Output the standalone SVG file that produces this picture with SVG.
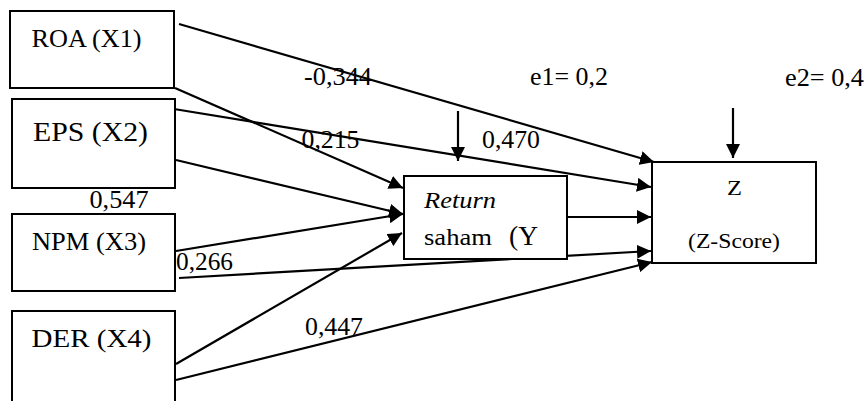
<svg xmlns="http://www.w3.org/2000/svg" width="865" height="401" viewBox="0 0 865 401">
<style>
.box{fill:#fff;stroke:#000;stroke-width:2}
.t{font-family:'Liberation Serif','DejaVu Serif','Times New Roman',Times,serif;fill:#000}
.c{stroke:#000;stroke-width:2.2;fill:none;marker-end:url(#ah)}
</style>
<defs>
<marker id="ah" markerUnits="userSpaceOnUse" markerWidth="15" markerHeight="14" refX="14" refY="7" orient="auto">
<path d="M0,0 L14,7 L0,14 z" fill="#000"/>
</marker>
</defs>
<rect width="865" height="401" fill="#fff"/>
<g id="connectors">
<line class="c" x1="179" y1="24" x2="654" y2="162"/>
<line class="c" x1="175" y1="88" x2="403" y2="188"/>
<line class="c" x1="174" y1="109" x2="651" y2="187"/>
<line class="c" x1="176" y1="160" x2="403" y2="214"/>
<line class="c" x1="176" y1="251" x2="403" y2="214"/>
<line class="c" x1="179" y1="278" x2="651" y2="251"/>
<line class="c" x1="176" y1="364" x2="402" y2="233"/>
<line class="c" x1="176" y1="380" x2="652" y2="262"/>
<line class="c" x1="567" y1="217" x2="651" y2="217"/>
<line class="c" x1="458" y1="111" x2="458" y2="161"/>
<line class="c" x1="733" y1="108" x2="733" y2="158"/>
</g>
<g id="roa">
<rect class="box" x="10" y="11" width="164" height="77"/>
<text class="t" font-family="Liberation Serif, serif" x="31.5" y="47" font-size="25" textLength="110" lengthAdjust="spacingAndGlyphs">ROA (X1)</text>
</g>
<g id="eps">
<rect class="box" x="12" y="99" width="163" height="89"/>
<text class="t" x="33" y="141" font-size="28" textLength="115" lengthAdjust="spacingAndGlyphs">EPS (X2)</text>
</g>
<g id="npm">
<rect class="box" x="12" y="214" width="163" height="77"/>
<text class="t" x="32" y="250" font-size="25" textLength="114" lengthAdjust="spacingAndGlyphs">NPM (X3)</text>
</g>
<g id="der">
<rect class="box" x="12" y="311" width="163" height="110"/>
<text class="t" x="31.5" y="347" font-size="25" textLength="120" lengthAdjust="spacingAndGlyphs">DER (X4)</text>
</g>
<g id="return">
<rect class="box" x="404" y="176" width="163" height="83"/>
<text class="t" x="424" y="208" font-size="23" font-style="italic" textLength="72" lengthAdjust="spacingAndGlyphs">Return</text>
<text class="t" x="424" y="245" font-size="24" textLength="68" lengthAdjust="spacingAndGlyphs">saham</text>
<text class="t" x="509" y="245" font-size="28" textLength="29" lengthAdjust="spacingAndGlyphs">(Y</text>
</g>
<g id="z">
<rect class="box" x="652" y="162" width="164" height="101"/>
<text class="t" x="727" y="195" font-size="21" textLength="15" lengthAdjust="spacingAndGlyphs">Z</text>
<text class="t" x="688" y="248" font-size="21" textLength="92" lengthAdjust="spacingAndGlyphs">(Z-Score)</text>
</g>
<g id="labels">
<text class="t" x="304" y="85" font-size="25" textLength="68" lengthAdjust="spacingAndGlyphs">-0,344</text>
<text class="t" x="530" y="85" font-size="25" textLength="78" lengthAdjust="spacingAndGlyphs">e1= 0,2</text>
<text class="t" x="785" y="86" font-size="25" textLength="79" lengthAdjust="spacingAndGlyphs">e2= 0,4</text>
<text class="t" x="301.5" y="148" font-size="25" textLength="58" lengthAdjust="spacingAndGlyphs">0,215</text>
<text class="t" x="482" y="148" font-size="25" textLength="58" lengthAdjust="spacingAndGlyphs">0,470</text>
<text class="t" x="89.5" y="208" font-size="25" textLength="59" lengthAdjust="spacingAndGlyphs">0,547</text>
<text class="t" x="176" y="270" font-size="25" textLength="57" lengthAdjust="spacingAndGlyphs">0,266</text>
<text class="t" x="305" y="335" font-size="25" textLength="58" lengthAdjust="spacingAndGlyphs">0,447</text>
</g>
</svg>
